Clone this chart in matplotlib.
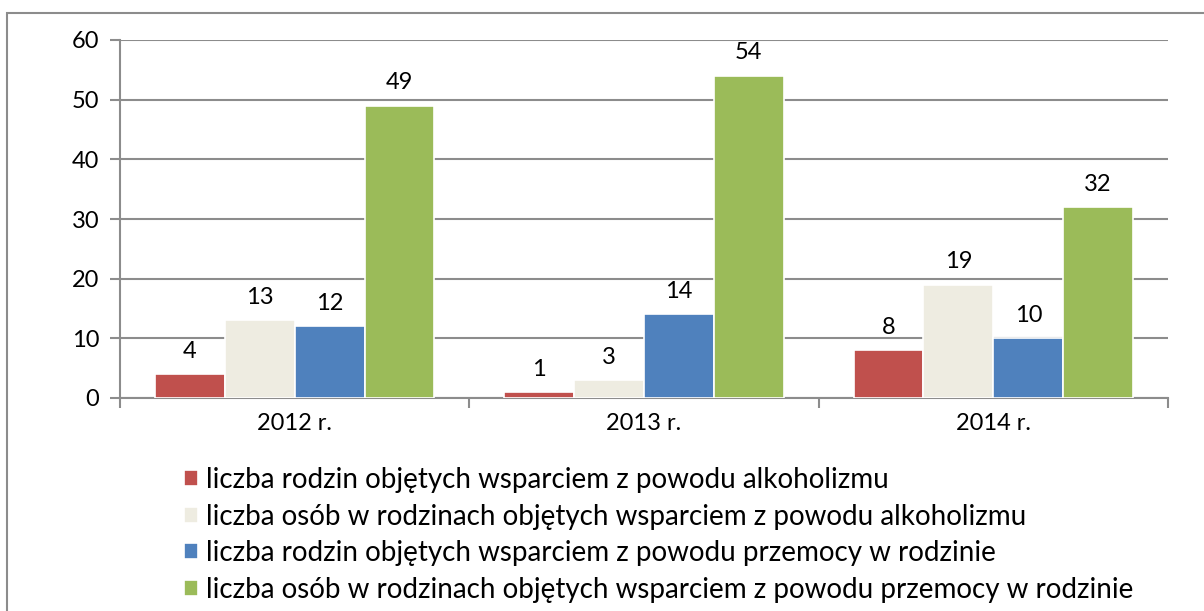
import matplotlib.pyplot as plt
from matplotlib.patches import Rectangle
import numpy as np

# data
years = ["2012 r.", "2013 r.", "2014 r."]
series_labels = [
    "liczba rodzin objętych wsparciem z powodu alkoholizmu",
    "liczba osób w rodzinach objętych wsparciem z powodu alkoholizmu",
    "liczba rodzin objętych wsparciem z powodu przemocy w rodzinie",
    "liczba osób w rodzinach objętych wsparciem z powodu przemocy w rodzinie",
]
rodziny_alk = [4, 1, 8]
osoby_alk = [13, 3, 19]
rodziny_przem = [12, 14, 10]
osoby_przem = [49, 54, 32]
colors = ["#C0504D", "#EEECE1", "#4F81BD", "#9BBB59"]

plt.rcParams['font.family'] = ['Lato', 'DejaVu Sans']

W, H = 1204, 611
fig = plt.figure(figsize=(W / 100, H / 100), dpi=100)
ax = fig.add_axes([120 / W, 1 - 398 / H, (1168 - 120) / W, (398 - 40) / H])

# outer chart frame (only top and left visible in the picture)
fig.patches.append(Rectangle((7 / W, -0.1), 1.2, 1 - 13 / H + 0.1, transform=fig.transFigure,
                             fill=False, edgecolor="#8c8c8c", linewidth=1.5, zorder=0))

x = np.arange(len(years))
width = 0.2
all_series = [rodziny_alk, osoby_alk, rodziny_przem, osoby_przem]
handles = []
for i, (vals, col) in enumerate(zip(all_series, colors)):
    pos = x + (i - 1.5) * width
    bars = ax.bar(pos, vals, width, color=col, edgecolor="white", linewidth=1.2, zorder=3)
    handles.append(bars)
    for p, v in zip(pos, vals):
        ax.annotate(str(v), (p, v), xytext=(0, 9), textcoords="offset points",
                    ha="center", va="bottom", fontsize=17, color="black")

ax.set_xlim(-0.5, 2.5)
ax.set_ylim(0, 60)
ax.set_yticks(range(0, 61, 10))
ax.yaxis.grid(True, color="#8c8c8c", linewidth=1.5, zorder=0)
ax.set_axisbelow(True)

ax.set_xticks(x)
ax.set_xticklabels(years)
ax.set_xticks([-0.5, 0.5, 1.5, 2.5], minor=True)
ax.tick_params(axis="x", which="major", length=0, pad=11, labelsize=17)
ax.tick_params(axis="x", which="minor", length=7, width=1.5, color="#8c8c8c")
ax.tick_params(axis="y", length=7, width=1.5, color="#8c8c8c", labelsize=17, pad=8)

for s in ["top", "right"]:
    ax.spines[s].set_visible(False)
for s in ["left", "bottom"]:
    ax.spines[s].set_color("#8c8c8c")
    ax.spines[s].set_linewidth(1.5)

fig.legend(handles, series_labels, loc="upper left", bbox_to_anchor=(184 / W, 1 - 467 / H),
           frameon=False, fontsize=20, handlelength=0.5, handleheight=0.5,
           handletextpad=0.3, labelspacing=0.38, borderaxespad=0, borderpad=0)

fig.savefig("out.png", dpi=100)
